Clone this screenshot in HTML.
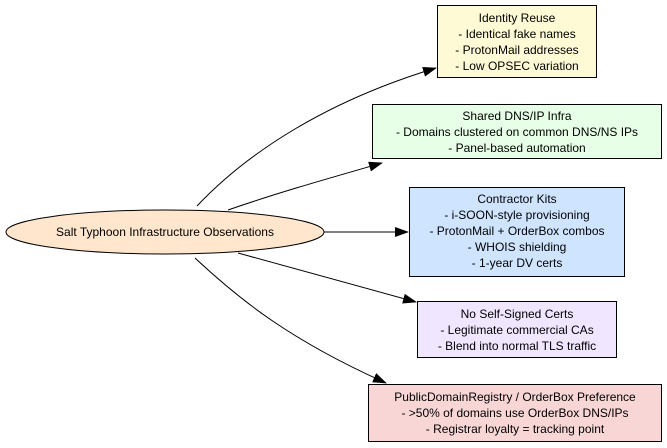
<!DOCTYPE html>
<html><head><meta charset="utf-8"><style>
html,body{margin:0;padding:0;background:#fff;}
svg{display:block;}
text{font-family:"Liberation Sans",Arial,sans-serif;font-size:12px;fill:#000;}
</style></head><body>
<svg width="667" height="448" viewBox="0 0 667 448" xmlns="http://www.w3.org/2000/svg">
<defs><marker id="a" markerWidth="14" markerHeight="10" refX="13" refY="5" orient="auto" markerUnits="userSpaceOnUse"><path d="M0,0 L14,5 L0,10 Z" fill="#000"/></marker></defs>
<g fill="none" stroke="#000" stroke-width="1">
<path d="M197,206 C250,150 330,100 436,68" marker-end="url(#a)"/>
<path d="M228,210 C280,192 330,178 382,163" marker-end="url(#a)"/>
<path d="M323,232 L408,232" marker-end="url(#a)"/>
<path d="M238,253 C300,270 360,287 416,302" marker-end="url(#a)"/>
<path d="M195,258 C240,300 290,340 386,383" marker-end="url(#a)"/>
</g>
<ellipse cx="165" cy="232" rx="159" ry="22" fill="#ffe6cc" stroke="#000"/>
<text x="165" y="236" text-anchor="middle">Salt Typhoon Infrastructure Observations</text>

<rect x="437.5" y="5.5" width="159" height="72" fill="#fffad6" stroke="#000"/>
<text x="517" y="22" text-anchor="middle">Identity Reuse</text>
<text x="517" y="38" text-anchor="middle">- Identical fake names</text>
<text x="517" y="54" text-anchor="middle">- ProtonMail addresses</text>
<text x="517" y="70" text-anchor="middle">- Low OPSEC variation</text>

<rect x="372.5" y="104.5" width="289" height="54" fill="#e6ffe6" stroke="#000"/>
<text x="517" y="120" text-anchor="middle">Shared DNS/IP Infra</text>
<text x="517" y="136" text-anchor="middle">- Domains clustered on common DNS/NS IPs</text>
<text x="517" y="152" text-anchor="middle">- Panel-based automation</text>

<rect x="409.5" y="187.5" width="215" height="89" fill="#cfe5ff" stroke="#000"/>
<text x="517" y="203" text-anchor="middle">Contractor Kits</text>
<text x="517" y="219" text-anchor="middle">- i-SOON-style provisioning</text>
<text x="517" y="235" text-anchor="middle">- ProtonMail + OrderBox combos</text>
<text x="517" y="251" text-anchor="middle">- WHOIS shielding</text>
<text x="517" y="267" text-anchor="middle">- 1-year DV certs</text>

<rect x="417.5" y="301.5" width="199" height="56" fill="#f0e6ff" stroke="#000"/>
<text x="517" y="318" text-anchor="middle">No Self-Signed Certs</text>
<text x="517" y="334" text-anchor="middle">- Legitimate commercial CAs</text>
<text x="517" y="350" text-anchor="middle">- Blend into normal TLS traffic</text>

<rect x="368.5" y="384.5" width="293" height="57" fill="#f8d6d6" stroke="#000"/>
<text x="515" y="401" text-anchor="middle">PublicDomainRegistry / OrderBox Preference</text>
<text x="515" y="417" text-anchor="middle">- &gt;50% of domains use OrderBox DNS/IPs</text>
<text x="515" y="433" text-anchor="middle">- Registrar loyalty = tracking point</text>
</svg>
</body></html>
